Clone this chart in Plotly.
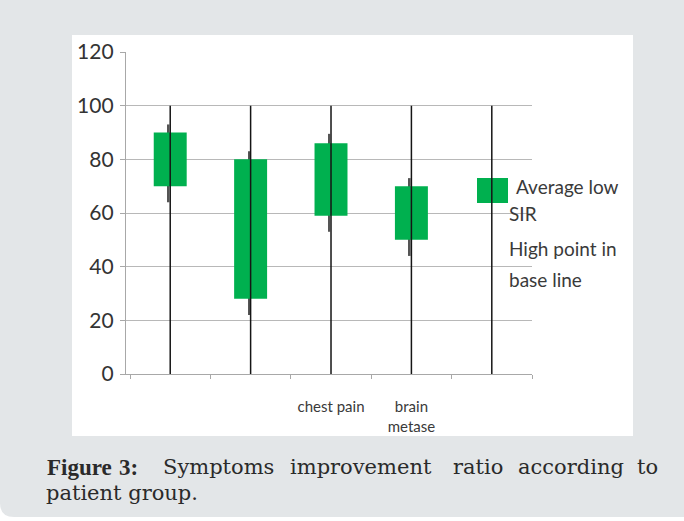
import plotly.graph_objects as go

# ---- data ----
categories = ["group 1", "group 2", "chest pain", "brain metase", "group 5"]
tick_labels = ["", "", "chest pain", "brain<br>metase", ""]
avg_low = [70, 28, 59, 50, None]       # bottom of green box
avg_high = [90, 80, 86, 70, None]      # top of green box
sir_low = [64, 22, 53, 44, None]       # thin whisker low
sir_high = [93, 83, 89.5, 73, None]    # thin whisker high
base_low = [0, 0, 0, 0, 0]             # black line bottom
base_high = [100, 100, 100, 100, 100]  # black line top
y_ticks = [0, 20, 40, 60, 80, 100, 120]

W, H = 684, 521
L, R, T, B = 126, 532, 52, 374   # plot area in pixels


def xp(px):
    return (px - L) / (R - L)


def yp(py):
    return (B - py) / (B - T)


fig = go.Figure()

# thin whiskers (SIR range)
fig.add_trace(go.Bar(
    x=categories,
    base=sir_low,
    y=[(h - l) if h is not None else None for h, l in zip(sir_high, sir_low)],
    width=0.02, offset=-0.03,
    marker=dict(color="#555555", line=dict(width=0)),
    name="SIR", showlegend=False, hoverinfo="skip",
))

# green boxes (average)
fig.add_trace(go.Bar(
    x=categories,
    base=avg_low,
    y=[(h - l) if h is not None else None for h, l in zip(avg_high, avg_low)],
    width=0.41,
    marker=dict(color="#00b04f", line=dict(width=0)),
    name="Average low", showlegend=False,
))

# black baseline-to-high lines
lx, ly = [], []
for c, lo, hi in zip(categories, base_low, base_high):
    lx += [c, c, None]
    ly += [lo, hi, None]
fig.add_trace(go.Scatter(
    x=lx, y=ly, mode="lines",
    line=dict(color="#151515", width=1.5),
    name="High point in base line", showlegend=False, hoverinfo="skip",
))

shapes = [
    # grey card with rounded bottom-left corner
    dict(type="path", xref="paper", yref="paper", layer="below",
         path=(f"M {xp(0)},{yp(0)} L {xp(W)},{yp(0)} L {xp(W)},{yp(517)} "
               f"L {xp(14)},{yp(517)} Q {xp(0)},{yp(517)} {xp(0)},{yp(503)} Z"),
         fillcolor="#e3e6e8", line=dict(width=0)),
    # white chart panel
    dict(type="rect", xref="paper", yref="paper", layer="below",
         x0=xp(72), x1=xp(633), y0=yp(436), y1=yp(35),
         fillcolor="white", line=dict(width=0)),
    # legend key
    dict(type="rect", xref="paper", yref="paper", layer="between",
         x0=xp(477), x1=xp(508), y0=yp(203), y1=yp(178),
         fillcolor="#00b04f", line=dict(width=0)),
]

legend_font = dict(family="Lato", size=19, color="#3a3a3a")
annotations = [
    dict(text="Average low", x=xp(514), y=yp(186)),
    dict(text="SIR", x=xp(507), y=yp(213)),
    dict(text="High point in", x=xp(507), y=yp(248)),
    dict(text="base line", x=xp(507), y=yp(279)),
]
for a in annotations:
    a.update(xref="paper", yref="paper", xanchor="left", yanchor="middle",
             showarrow=False, font=legend_font)

cap_font = dict(family="DejaVu Serif", size=21, color="#2a2a2a")
cap_bold = dict(family="Liberation Serif", size=23, color="#2a2a2a")
caption_words = [
    ("<b>Figure</b>", 45, cap_bold), ("<b>3:</b>", 117, cap_bold),
    ("Symptoms", 161, cap_font), ("improvement", 288, cap_font),
    ("ratio", 451, cap_font), ("according", 516, cap_font), ("to", 635, cap_font),
]
for w, x, f in caption_words:
    annotations.append(dict(text=w, x=xp(x), y=yp(467), xref="paper", yref="paper",
                            xanchor="left", yanchor="middle", showarrow=False,
                            font=f))
annotations.append(dict(text="patient group.", x=xp(44), y=yp(493), xref="paper",
                        yref="paper", xanchor="left", yanchor="middle",
                        showarrow=False, font=cap_font))

fig.update_layout(
    width=W, height=H,
    margin=dict(l=L, r=W - R, t=T, b=H - B, pad=0),
    paper_bgcolor="white", plot_bgcolor="rgba(0,0,0,0)",
    barmode="overlay", showlegend=False,
    shapes=shapes, annotations=annotations,
    xaxis=dict(
        type="category", categoryorder="array", categoryarray=categories,
        range=[-0.55, 4.5],
        tickmode="array", tickvals=categories, ticktext=tick_labels,
        tickson="boundaries", ticks="outside", ticklen=4, tickcolor="#a8a8a8",
        tickwidth=1.3,
        showgrid=False, showline=True, linecolor="#a8a8a8", linewidth=1.3,
        tickfont=dict(family="Lato", size=15, color="#3a3a3a"),
        ticklabelstandoff=19, zeroline=False,
    ),
    yaxis=dict(
        range=[0, 120], tickmode="array", tickvals=y_ticks,
        ticks="outside", ticklen=5, tickcolor="#a8a8a8", tickwidth=1.3,
        showgrid=True, gridcolor="#b8b8b8", gridwidth=1.2,
        showline=True, linecolor="#a8a8a8", linewidth=1.3,
        zeroline=False,
        tickfont=dict(family="Lato", size=21, color="#333333"),
        ticklabelstandoff=2,
    ),
)

fig.write_html("out.html", config={"displayModeBar": False},
               post_script="document.body.style.margin='0';")
